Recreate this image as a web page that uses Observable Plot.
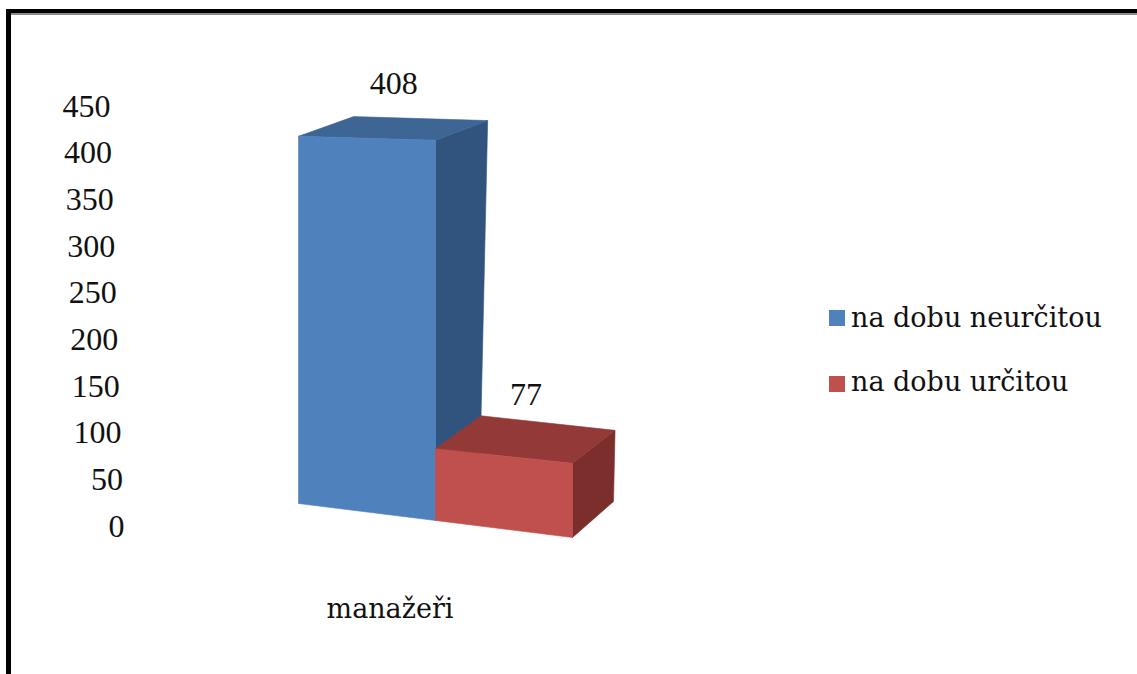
<!DOCTYPE html>
<html>
<head>
<meta charset="utf-8">
<script src="https://cdn.jsdelivr.net/npm/d3@7"></script>
<script src="https://cdn.jsdelivr.net/npm/@observablehq/plot@0.6"></script>
<style>
  html, body { margin: 0; padding: 0; background: #fff; }
  #wrap { position: relative; width: 1137px; height: 674px; overflow: hidden; background: #fff; }
  #frameTop { position: absolute; left: 6px; top: 9px; width: 1131px; height: 4px; background: #000; }
  #frameTop2 { position: absolute; left: 10px; top: 13px; width: 1127px; height: 2px; background: #8a8a8a; }
  #frameLeft { position: absolute; left: 6px; top: 9px; width: 5px; height: 665px; background: #000; }
  #chart { position: absolute; left: 0; top: 0; }
  #overlay { position: absolute; left: 0; top: 0; }
</style>
</head>
<body>
<div id="wrap">
  <div id="chart"></div>
  <svg id="overlay" width="1137" height="674"></svg>
  <div id="frameTop"></div>
  <div id="frameTop2"></div>
  <div id="frameLeft"></div>
</div>
<script>
// ---- data ----
const category = ["manažeři"];
const series = ["na dobu neurčitou", "na dobu určitou"];
const values = [408, 77];
const yTicks = [0, 50, 100, 150, 200, 250, 300, 350, 400, 450];

// ---- styles ----
const frontColors = ["#4F81BD", "#C0504D"];
const topColors = ["#3D6695", "#933937"];
const sideColors = ["#31547F", "#7B2E2C"];

// ---- scales (pixel ranges) ----
const xRange = [298, 572];   // two bar widths along x (domain 0..2)
const yRange = [526, 106];   // value 0..450
const k = (yRange[0] - yRange[1]) / 450;
const bw = (xRange[1] - xRange[0]) / 2;

// simple 3D camera: (bar units, value, depth 0..1) -> scale units
function cam(xu, v, z) {
  const px = 298 + 137 * xu + z * (44 + 0.02 * v - 3 * (xu - 1));
  const py = 503 + 17 * xu - 0.9 * v - 0.032 * xu * v + z * (-36 + 0.04 * v);
  return {x: (px - xRange[0]) / bw, y: (yRange[0] - py) / k};
}

const marks = [];
values.forEach((v, i) => {
  const a = i, b = i + 1;
  const side = [cam(b, 0, 0), cam(b, v, 0), cam(b, v, 1), cam(b, 0, 1)];
  const top = [cam(a, v, 0), cam(b, v, 0), cam(b, v, 1), cam(a, v, 1)];
  const front = [cam(a, 0, 0), cam(b, 0, 0), cam(b, v, 0), cam(a, v, 0)];
  [[side, sideColors[i]], [top, topColors[i]], [front, frontColors[i]]].forEach(([pts, c]) => {
    marks.push(Plot.line([...pts, pts[0]], {x: "x", y: "y", fill: c, stroke: c, strokeWidth: 0.6}));
  });
});

// value labels
marks.push(Plot.text(values.map((v, i) => ({v, ...cam(i + 0.5, v, 0.5)})), {
  x: "x", y: "y", text: d => String(d.v), dy: -45,
  fontFamily: "Liberation Serif", fontSize: 32, fill: "#111"
}));

// y tick labels (perspective-shifted left wall)
marks.push(Plot.text(yTicks, {
  x: v => (124 - 0.031 * v - xRange[0]) / bw, y: v => v, text: v => String(v),
  textAnchor: "end", fontFamily: "Liberation Serif", fontSize: 32, fill: "#111"
}));

const plot = Plot.plot({
  width: 1137, height: 674,
  marginTop: 0, marginRight: 0, marginBottom: 0, marginLeft: 0,
  x: {type: "linear", domain: [0, 2], range: xRange, axis: null},
  y: {type: "linear", domain: [0, 450], range: yRange, axis: null},
  style: {background: "transparent"},
  marks
});
document.getElementById("chart").appendChild(plot);

// legend + category label
const svg = d3.select("#overlay");
const legY = [310, 376];
const legBase = [327, 391];
series.forEach((s, i) => {
  svg.append("rect").attr("x", 829).attr("y", legY[i]).attr("width", 16).attr("height", 16).attr("fill", frontColors[i]);
  svg.append("text").attr("x", 851).attr("y", legBase[i]).text(s)
    .attr("font-family", "DejaVu Serif").attr("font-size", 27).attr("fill", "#111");
});
svg.append("text").attr("x", 390).attr("y", 618).attr("text-anchor", "middle").text(category[0])
  .attr("font-family", "DejaVu Serif").attr("font-size", 27).attr("fill", "#111");
</script>
</body>
</html>
